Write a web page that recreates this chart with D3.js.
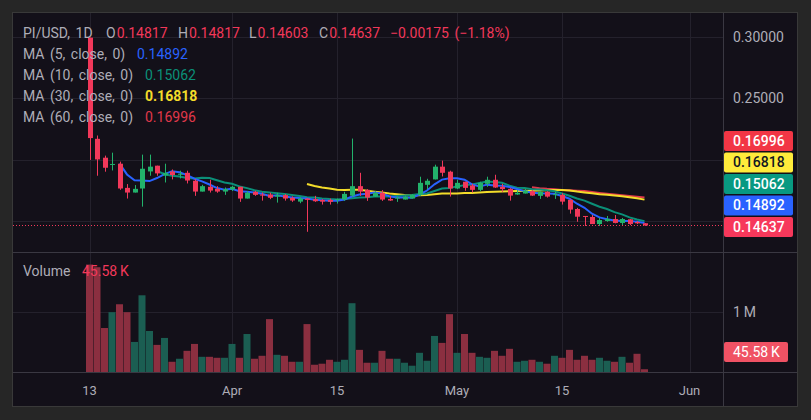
<!DOCTYPE html>
<html lang="en">
<head>
  <meta charset="UTF-8">
  <title>PI/USD 1D</title>
  <style>
    body { margin: 0; background: #262626; }
    svg { display: block; font-family: Roboto, "Liberation Sans", sans-serif; }
  </style>
</head>
<body>
  <div id="chart"></div>
  <script src="https://d3js.org/d3.v7.min.js"></script>
  <script>
// ---- data ----
const startDay = '2025-03-13'
const opens = [0.2995,0.2170,0.2016,0.1959,0.1967,0.1770,0.1732,0.1765,0.1904,0.1951,
  0.1871,0.1904,0.1877,0.1893,0.1828,0.1740,0.1779,0.1762,0.1740,0.1757,
  0.1779,0.1683,0.1738,0.1716,0.1716,0.1699,0.1711,0.1689,0.1658,0.1683,
  0.1678,0.1672,0.1672,0.1670,0.1675,0.1707,0.1784,0.1754,0.1699,0.1730,
  0.1680,0.1686,0.1675,0.1683,0.1711,0.1795,0.1839,0.1943,0.1902,0.1765,
  0.1820,0.1790,0.1754,0.1803,0.1836,0.1779,0.1762,0.1716,0.1724,0.1743,
  0.1705,0.1738,0.1711,0.1713,0.1672,0.1598,0.1541,0.1533,0.1475,0.1500,
  0.1516,0.1484,0.1514,0.1492,0.14817]
const highs = [0.2995,0.2197,0.2033,0.2057,0.1984,0.1801,0.1793,0.2041,0.2041,0.1951,
  0.1967,0.1920,0.1910,0.1910,0.1842,0.1795,0.1836,0.1784,0.1773,0.1787,
  0.1779,0.1743,0.1746,0.1732,0.1730,0.1730,0.1719,0.1701,0.1694,0.1687,
  0.1705,0.1678,0.1683,0.1683,0.1738,0.2172,0.1893,0.1760,0.1743,0.1752,
  0.1705,0.1699,0.1707,0.1719,0.1861,0.1844,0.1959,0.1992,0.1910,0.1836,
  0.1820,0.1803,0.1820,0.1861,0.1877,0.1803,0.1768,0.1752,0.1762,0.1752,
  0.1743,0.1743,0.1740,0.1727,0.1678,0.1607,0.1541,0.1549,0.1525,0.1541,
  0.1549,0.1525,0.1516,0.1500,0.14817]
const lows = [0.1998,0.1869,0.1902,0.1912,0.1754,0.1683,0.1732,0.1617,0.1869,0.1869,
  0.1814,0.1839,0.1847,0.1806,0.1705,0.1740,0.1732,0.1730,0.1713,0.1744,
  0.1656,0.1683,0.1705,0.1666,0.1678,0.1650,0.1666,0.1656,0.1645,0.1412,
  0.1656,0.1634,0.1634,0.1642,0.1664,0.1697,0.1705,0.1664,0.1697,0.1664,
  0.1664,0.1656,0.1675,0.1683,0.1705,0.1760,0.1839,0.1863,0.1699,0.1760,
  0.1746,0.1732,0.1743,0.1779,0.1770,0.1738,0.1666,0.1713,0.1724,0.1705,
  0.1680,0.1691,0.1680,0.1634,0.1560,0.1494,0.1459,0.1475,0.1459,0.1494,
  0.1481,0.1467,0.1467,0.1475,0.14603]
const closes = [0.2176,0.2002,0.1934,0.1965,0.1765,0.1732,0.1762,0.1926,0.1943,0.1888,
  0.1893,0.1875,0.1885,0.1830,0.1740,0.1784,0.1748,0.1740,0.1760,0.1779,
  0.1683,0.1730,0.1713,0.1707,0.1689,0.1711,0.1683,0.1667,0.1683,0.1672,
  0.1661,0.1658,0.1656,0.1678,0.1721,0.1784,0.1740,0.1691,0.1730,0.1675,
  0.1667,0.1691,0.1699,0.1713,0.1811,0.1828,0.1943,0.1893,0.1765,0.1811,
  0.1770,0.1754,0.1811,0.1836,0.1773,0.1760,0.1707,0.1730,0.1748,0.1707,
  0.1738,0.1699,0.1719,0.1658,0.1593,0.1535,0.1535,0.1475,0.1508,0.1516,
  0.1484,0.1516,0.1475,0.1481,0.14637]
// volume in millions
const volumes = [1.776,1.732,0.727,0.989,1.120,0.989,0.497,1.268,0.678,0.448,
  0.563,0.169,0.219,0.350,0.464,0.251,0.251,0.235,0.235,0.464,
  0.235,0.628,0.219,0.268,0.874,0.284,0.268,0.169,0.169,0.792,
  0.120,0.137,0.202,0.169,0.202,1.137,0.366,0.153,0.153,0.350,
  0.219,0.219,0.153,0.104,0.317,0.186,0.596,0.481,0.956,0.317,
  0.628,0.317,0.251,0.235,0.350,0.268,0.383,0.169,0.186,0.202,
  0.169,0.137,0.268,0.235,0.366,0.202,0.268,0.202,0.235,0.186,
  0.169,0.251,0.153,0.301,0.04558]

const maPeriods = [5, 10, 30, 60]
const maColors = ['#2962ff', '#0b8f78', '#f3dc2a', '#e0384a']
const maValues = ['0.14892', '0.15062', '0.16818', '0.16996']
const lastPrice = 0.14637
const ohlcKeys = ['O', 'H', 'L', 'C']
const ohlcText = ['0.14817', '0.14817', '0.14603', '0.14637']
const changeText = '\u22120.00175 (\u22121.18%)'
const volText = '45.58\u2009K'

const priceTicks = [0.30, 0.25, 0.20, 0.15]
const priceTickLabels = ['0.30000', '0.25000']
const timeTicks = ['2025-03-13', '2025-04-01', '2025-04-15', '2025-05-01', '2025-05-15', '2025-06-01']
const timeLabels = ['13', 'Apr', '15', 'May', '15', 'Jun']

// ---- setup ----
const W = 811, H = 420
const frame = {left: 13, top: 13, right: 797, bottom: 406}
const axisX = 723
const volPane = {top: 252, bottom: 372}

const upColor = '#22b26b', downColor = '#f2385a'
const upVol = '#1b5e52', downVol = '#8b2f40'
const textGrey = '#aeadb7', redText = '#f2385a'
const gridColor = '#24212c', lineColor = '#3a3842'

const parse = d3.utcParse('%Y-%m-%d')
const day0 = parse(startDay)
const data = closes.map((c, i) => ({
  date: d3.utcDay.offset(day0, i),
  o: opens[i], h: highs[i], l: lows[i], c: c, v: volumes[i] * 1e6
}))

const x = d3.scaleUtc()
  .domain([parse('2025-03-13'), parse('2025-06-01')])
  .range([89.5, 689.5])
const y = d3.scaleLinear().domain([0.15, 0.30]).range([221, 37])
const yv = d3.scaleLinear().domain([0, 1e6]).range([372, 311.5])

const svg = d3.select('#chart').append('svg')
  .attr('width', W).attr('height', H)

svg.append('rect').attr('width', W).attr('height', H).attr('fill', '#262626')
svg.append('rect')
  .attr('x', frame.left - 0.5).attr('y', frame.top - 0.5)
  .attr('width', frame.right - frame.left + 1).attr('height', frame.bottom - frame.top + 1)
  .attr('fill', '#131019').attr('stroke', '#393939')

// grid
const grid = svg.append('g').attr('stroke', gridColor).attr('stroke-width', 1)
timeTicks.forEach(t => {
  const gx = Math.round(x(parse(t))) + 0.5
  grid.append('line').attr('x1', gx).attr('x2', gx).attr('y1', frame.top).attr('y2', volPane.bottom)
})
priceTicks.forEach(p => {
  const gy = Math.round(y(p)) + 0.5
  grid.append('line').attr('x1', frame.left).attr('x2', axisX).attr('y1', gy).attr('y2', gy)
})
grid.append('line').attr('x1', frame.left).attr('x2', axisX)
  .attr('y1', Math.round(yv(1e6)) + 0.5).attr('y2', Math.round(yv(1e6)) + 0.5)

// volume bars
svg.append('g').selectAll('rect').data(data).enter().append('rect')
  .attr('x', d => x(d.date) - 3.5)
  .attr('width', 7)
  .attr('y', d => yv(d.v))
  .attr('height', d => yv(0) - yv(d.v))
  .attr('fill', d => d.c >= d.o ? upVol : downVol)

// moving averages
function sma(n) {
  const out = []
  for (let i = n - 1; i < data.length; i++) {
    out.push({date: data[i].date, v: d3.mean(data.slice(i - n + 1, i + 1), d => d.c)})
  }
  return out
}
const line = d3.line().x(d => x(d.date)).y(d => y(d.v))
const maG = svg.append('g')
;[3, 2, 1, 0].forEach(k => {
  maG.append('path')
    .datum(sma(maPeriods[k]))
    .attr('d', line)
    .attr('fill', 'none')
    .attr('stroke', maColors[k])
    .attr('stroke-width', 2)
})

// candles
const candles = svg.append('g').selectAll('g').data(data).enter().append('g')
candles.append('line')
  .attr('x1', d => Math.round(x(d.date)) + 0.5).attr('x2', d => Math.round(x(d.date)) + 0.5)
  .attr('y1', d => y(d.h)).attr('y2', d => y(d.l))
  .attr('stroke', d => d.c >= d.o ? upColor : downColor)
candles.append('rect')
  .attr('x', d => Math.round(x(d.date)) - 2)
  .attr('width', 5)
  .attr('y', d => y(Math.max(d.o, d.c)))
  .attr('height', d => Math.max(1, Math.abs(y(d.o) - y(d.c))))
  .attr('fill', d => d.c >= d.o ? upColor : downColor)

// last price dotted line
svg.append('line')
  .attr('x1', frame.left).attr('x2', axisX)
  .attr('y1', Math.round(y(lastPrice)) + 0.5).attr('y2', Math.round(y(lastPrice)) + 0.5)
  .attr('stroke', downColor).attr('stroke-dasharray', '1,2')

// separators
svg.append('line').attr('x1', axisX + 0.5).attr('x2', axisX + 0.5)
  .attr('y1', frame.top).attr('y2', frame.bottom).attr('stroke', lineColor)
svg.append('line').attr('x1', frame.left).attr('x2', frame.right)
  .attr('y1', volPane.top + 0.5).attr('y2', volPane.top + 0.5).attr('stroke', lineColor)
svg.append('line').attr('x1', frame.left).attr('x2', frame.right)
  .attr('y1', volPane.bottom + 0.5).attr('y2', volPane.bottom + 0.5).attr('stroke', lineColor)

// right price axis labels
const rAxis = svg.append('g').attr('font-size', 14).attr('fill', textGrey)
priceTickLabels.forEach((lab, i) => {
  rAxis.append('text').attr('x', 733).attr('y', y(priceTicks[i]) + 5).text(lab)
})
rAxis.append('text').attr('x', 733).attr('y', yv(1e6) + 5).text('1\u2009M')

// stacked value tags on price axis
const tags = [
  {v: lastPrice, t: ohlcText[3], bg: '#f7385b', fg: '#fff'},
  {v: +maValues[0], t: maValues[0], bg: maColors[0], fg: '#fff'},
  {v: +maValues[1], t: maValues[1], bg: '#089981', fg: '#fff'},
  {v: +maValues[2], t: maValues[2], bg: '#ffeb3b', fg: '#131722'},
  {v: +maValues[3], t: maValues[3], bg: '#f23645', fg: '#fff'}
]
let prevY = Infinity
tags.forEach(tg => {
  let cy = y(tg.v) + 1.5
  if (cy > prevY - 21.5) cy = prevY - 21.5
  prevY = cy
  tg.cy = cy
})
const tagG = svg.append('g').attr('font-size', 14).attr('font-weight', 500)
tags.forEach(tg => {
  tagG.append('rect').attr('x', 724).attr('y', tg.cy - 10).attr('width', 69).attr('height', 20)
    .attr('rx', 2).attr('fill', tg.bg)
  tagG.append('text').attr('x', 733).attr('y', tg.cy + 5).attr('fill', tg.fg).text(tg.t)
})
// volume tag
const vcy = Math.min(yv(data[data.length - 1].v), volPane.bottom - 20)
tagG.append('rect').attr('x', 724).attr('y', vcy - 10).attr('width', 64).attr('height', 20)
  .attr('rx', 2).attr('fill', '#f05264')
tagG.append('text').attr('x', 733).attr('y', vcy + 5).attr('fill', '#fff')
  .attr('font-weight', 400).text(volText)

// time axis
const xAxis = svg.append('g').attr('font-size', 13).attr('fill', textGrey).attr('text-anchor', 'middle')
timeTicks.forEach((t, i) => {
  xAxis.append('text').attr('x', x(parse(t))).attr('y', 395).text(timeLabels[i])
})

// legend
const leg = svg.append('g').attr('font-size', 14).attr('fill', textGrey).attr('word-spacing', 2)
const head = leg.append('text').attr('y', 38)
head.append('tspan').attr('x', 23).text('PI/USD, 1D')
const keyX = [106, 178, 249, 319]
ohlcKeys.forEach((k, i) => {
  head.append('tspan').attr('x', keyX[i]).text(k)
  head.append('tspan').attr('dx', 1).attr('fill', redText).text(ohlcText[i])
})
head.append('tspan').attr('x', 390).attr('fill', redText).text(changeText)

maPeriods.forEach((n, i) => {
  const t = leg.append('text').attr('y', 59 + i * 21)
  t.append('tspan').attr('x', 23).text(`MA (${n}, close, 0)`)
  t.append('tspan').attr('x', i === 0 ? 137 : 145).attr('fill', maColors[i])
    .attr('font-weight', i === 2 ? 700 : 400).text(maValues[i])
})
const vt = leg.append('text').attr('y', 276)
vt.append('tspan').attr('x', 23).text('Volume')
vt.append('tspan').attr('x', 82).attr('fill', redText).text(volText)
  </script>
</body>
</html>
